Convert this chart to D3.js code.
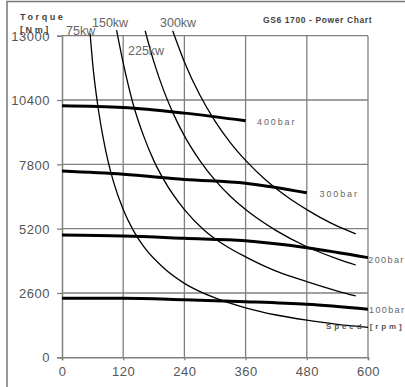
<!DOCTYPE html>
<html><head><meta charset="utf-8">
<script src="https://cdn.jsdelivr.net/npm/d3@7"></script>
<style>
html,body{margin:0;padding:0;background:#fff;}
svg{display:block;font-family:"Liberation Sans",Arial,sans-serif;}
</style></head>
<body>
<svg id="c" width="405" height="387"></svg>
<script>
// ---- data ----
const xTicks = [0, 120, 240, 360, 480, 600];
const yTicks = [0, 2600, 5200, 7800, 10400, 13000];

// pressure lines [rpm, torque Nm]
const bar400 = [[0,10170],[120,10100],[240,9870],[360,9560]];
const bar300 = [[0,7530],[120,7400],[240,7190],[360,7040],[480,6650]];
const bar200 = [[0,4940],[120,4900],[240,4810],[360,4710],[480,4430],[600,4030]];
const bar100 = [[0,2390],[120,2390],[240,2330],[360,2250],[480,2140],[600,1940]];
const barNames = ["400bar","300bar","200bar","100bar"];

// power curves [rpm, torque Nm]
const kw75  = [[55,13100],[60,11900],[70,10200],[80,8950],[90,7950],[100,7160],[120,5970],[140,5120],[160,4480],[200,3600],[240,2990],[300,2400],[360,2000],[420,1710],[480,1500],[540,1330],[600,1210]];
const kw150 = [[107,13230],[120,11900],[140,10200],[160,8950],[180,7950],[200,7160],[240,5970],[280,5120],[320,4520],[360,4060],[420,3480],[480,3060],[540,2680],[576,2480]];
const kw225 = [[163,13200],[180,11950],[200,10750],[220,9770],[240,8950],[270,7960],[300,7160],[330,6510],[360,5970],[420,5120],[480,4470],[540,3980],[576,3730]];
const kw300 = [[217,13200],[240,11940],[270,10610],[300,9550],[330,8680],[360,7960],[400,7160],[440,6510],[480,5970],[540,5300],[576,4990]];
const kwNames = ["75kw","150kw","225kw","300kw"];

// ---- drawing ----
const svg = d3.select("#c");
const x = d3.scaleLinear().domain([0,600]).range([62,368]);
const y = d3.scaleLinear().domain([0,13000]).range([357.3,35.7]);
const grey = "#808080";

// outer frame
svg.append("path").attr("d","M7,387 V1.5 H405").attr("fill","none").attr("stroke","#777").attr("stroke-width",1.5);

// gridlines
svg.append("g").selectAll("line.h").data(yTicks.filter(d=>d>0)).join("line")
  .attr("x1",x(0)).attr("x2",x(600)).attr("y1",d=>y(d)).attr("y2",d=>y(d))
  .attr("stroke",grey).attr("stroke-width",1.3);
svg.append("g").selectAll("line.v").data(xTicks.filter(d=>d>0)).join("line")
  .attr("x1",d=>x(d)).attr("x2",d=>x(d)).attr("y1",y(0)).attr("y2",y(13000))
  .attr("stroke",grey).attr("stroke-width",1.3);

// axes
const yAxis = d3.axisLeft(y).tickValues(yTicks).tickSize(5).tickPadding(7).tickFormat(d3.format("d"));
const xAxis = d3.axisBottom(x).tickValues(xTicks).tickSize(3).tickPadding(13).tickFormat(d3.format("d"));
const gy = svg.append("g").attr("transform",`translate(${x(0)},0)`).call(yAxis);
const gx = svg.append("g").attr("transform",`translate(0,${y(0)})`).call(xAxis);
[gy,gx].forEach(g=>{
  g.select(".domain").attr("stroke",grey).attr("stroke-width",1.5);
  g.selectAll(".tick line").attr("stroke",grey).attr("stroke-width",1.3);
  g.selectAll(".tick text").attr("fill","#555").attr("font-size","13px")
    .attr("letter-spacing","0.5px").attr("font-family","Liberation Sans, Arial, sans-serif");
});
gy.selectAll(".tick text").attr("dy","0.36em");
gx.selectAll(".tick text").attr("dy","0.2em");

// power curves
const line = d3.line().x(d=>x(d[0])).y(d=>y(d[1])).curve(d3.curveMonotoneX);
[kw75,kw150,kw225,kw300].forEach(s=>{
  svg.append("path").attr("d",line(s)).attr("fill","none").attr("stroke","#000").attr("stroke-width",1.3);
});
// pressure lines
[bar400,bar300,bar200,bar100].forEach(s=>{
  svg.append("path").attr("d",line(s)).attr("fill","none").attr("stroke","#000").attr("stroke-width",3);
});

// labels
function txt(t,px,py,opt){
  const e = svg.append("text").attr("x",px).attr("y",py).text(t)
    .attr("font-size",opt.size||"12px").attr("fill",opt.fill||"#666")
    .attr("font-weight",opt.weight||"normal");
  if(opt.ls) e.attr("letter-spacing",opt.ls);
  return e;
}
txt("Torque",20,19.5,{size:"9px",weight:"bold",ls:"2.6px",fill:"#444"});
txt("[Nm]",20,33,{size:"9px",weight:"bold",ls:"2.6px",fill:"#444"});
txt("GS6 1700 - Power Chart",263,23.3,{size:"8.5px",weight:"bold",ls:"0.6px",fill:"#444"});

const kwPos = [[66,35],[92,26.7],[128,55],[160,26.7]];
kwNames.forEach((n,i)=>txt(n,kwPos[i][0],kwPos[i][1],{size:"12.5px",fill:"#666"}));

const barPos = [[257,124.5],[319.5,196.7],[368.3,262.7],[369,312.5]];
barNames.forEach((n,i)=>txt(n,barPos[i][0],barPos[i][1],{size:"9px",ls:(i<2?"1.9px":"1.4px"),fill:"#666"}));

txt("Speed [rpm]",326,328.5,{size:"8px",weight:"bold",ls:"2.9px",fill:"#555"});
</script>
</body></html>
